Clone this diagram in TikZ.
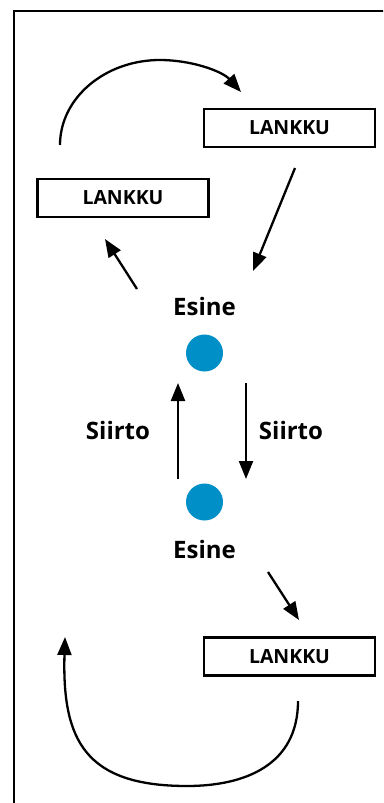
\documentclass[tikz,border=0pt]{standalone}
\usepackage{fontspec}
\setmainfont{Open Sans}
\usetikzlibrary{arrows.meta}
\definecolor{itemblue}{RGB}{0,143,199}
\tikzset{
  plank/.style={draw, line width=2.6pt, minimum width=171pt, minimum height=38pt,
    inner sep=0pt, font=\bfseries\fontsize{19.5}{20}\selectfont},
  lbl/.style={anchor=base, inner sep=0pt, font=\bfseries\fontsize{24}{26}\selectfont},
  item/.style={circle, fill=itemblue, minimum size=37pt, inner sep=0pt},
  arr/.style={line width=2.3pt, -{Triangle[length=18pt,width=14pt]}},
  frame/.style={line width=2.6pt}
}
\begin{document}
\begin{tikzpicture}[x=1pt,y=-1pt]
  \useasboundingbox (0,0) rectangle (383,803);
  \clip (0,0) rectangle (383,803);
  \draw[frame] (14,11) rectangle (420,840);

  % planks
  \node[plank] (p1) at (289.5,128) {LANKKU};
  \node[plank] (p2) at (123,198) {LANKKU};
  \node[plank] (p3) at (289.5,656.5) {LANKKU};

  % items and their labels
  \node[item] (i1) at (204.5,353) {};
  \node[item] (i2) at (204.5,502) {};
  \node[lbl] (e1) at (204.5,315) {Esine};
  \node[lbl] (e2) at (204.5,558) {Esine};
  \node[lbl] (s1) at (118,439) {Siirto};
  \node[lbl] (s2) at (291,439) {Siirto};

  % arrow end points
  \coordinate (a1s) at (295,168);  \coordinate (a1e) at (253,271);
  \coordinate (a2s) at (137,289);  \coordinate (a2e) at (105,239);
  \coordinate (a3s) at (178,479);  \coordinate (a3e) at (178,383);
  \coordinate (a4s) at (246,383);  \coordinate (a4e) at (246,479);
  \coordinate (a5s) at (268,572);  \coordinate (a5e) at (299,620);
  \coordinate (c1s) at (60,145);   \coordinate (c1e) at (241,92);
  \coordinate (c2s) at (298,701);  \coordinate (c2e) at (65,637);

  % straight moves
  \draw[arr] (a1s) -- (a1e);
  \draw[arr] (a2s) -- (a2e);
  \draw[arr] (a3s) -- (a3e);
  \draw[arr] (a4s) -- (a4e);
  \draw[arr] (a5s) -- (a5e);

  % curved moves
  \draw[arr] (c1s) .. controls (60,98) and (105,60) .. (160,60)
             .. controls (191,60) and (222,71) .. (c1e);
  \draw[arr] (c2s) .. controls (298,765) and (245,786) .. (187,786)
             .. controls (85,786) and (62,740) .. (c2e);
\end{tikzpicture}
\end{document}
